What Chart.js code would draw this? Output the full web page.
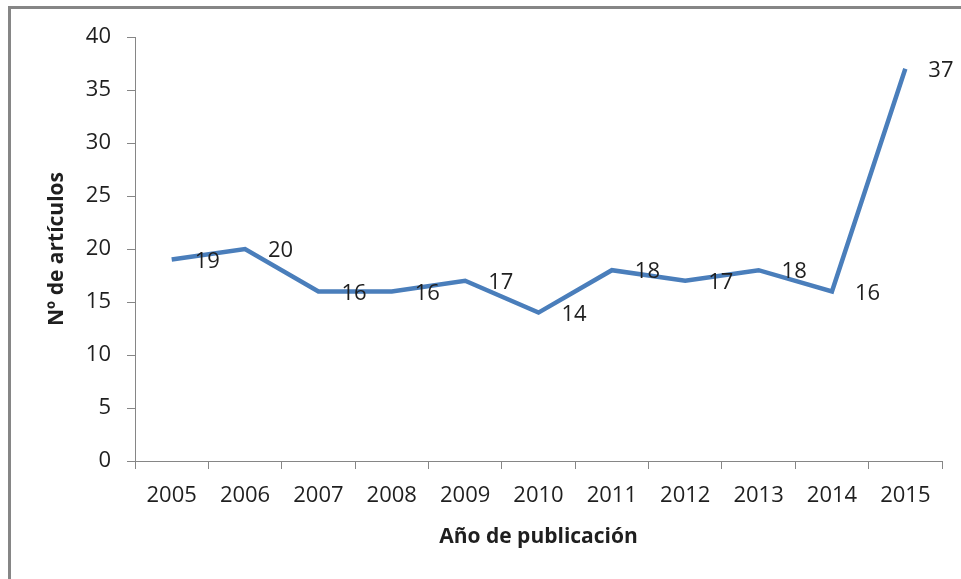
<!DOCTYPE html>
<html>
<head>
<meta charset="utf-8">
<script src="https://cdn.jsdelivr.net/npm/chart.js@4.4.1/dist/chart.umd.min.js"></script>
<style>
  html, body { margin: 0; padding: 0; background: #fff; overflow: hidden; }
  #frame { position: absolute; left: 8px; top: 6px; width: 1000px; height: 700px; border: 3px solid #868686; }
  #wrap { position: absolute; left: 0; top: 0; width: 961px; height: 579px; }
</style>
</head>
<body>
<div id="frame"></div>
<div id="wrap"><canvas id="c" width="961" height="579"></canvas></div>
<script>
const years = ['2005', '2006', '2007', '2008', '2009', '2010', '2011', '2012', '2013', '2014', '2015'];
const articles = [19, 20, 16, 16, 17, 14, 18, 17, 18, 16, 37];
const yTicks = [0, 5, 10, 15, 20, 25, 30, 35, 40];

const FONT = '"Open Sans", Lato, sans-serif';
const axisGray = '#868686';
const ink = '#1f1f1f';

// value labels drawn to the right of each point, like Excel's "right" position
const pointLabels = {
  id: 'pointLabels',
  afterDatasetsDraw(chart) {
    const { ctx } = chart;
    const meta = chart.getDatasetMeta(0);
    ctx.save();
    ctx.font = '22px ' + FONT;
    ctx.fillStyle = ink;
    ctx.textAlign = 'left';
    ctx.textBaseline = 'middle';
    meta.data.forEach((pt, i) => {
      ctx.fillText(String(articles[i]), pt.x + 23, pt.y + 2);
    });
    ctx.restore();
  }
};

new Chart(document.getElementById('c'), {
  type: 'line',
  data: {
    labels: years,
    datasets: [{
      data: articles,
      borderColor: '#4A7EBB',
      borderWidth: 4.5,
      pointRadius: 0,
      tension: 0,
      fill: false,
    }],
  },
  options: {
    responsive: false,
    animation: false,
    devicePixelRatio: 1,
    layout: { padding: { left: 0, top: 37, right: 19, bottom: 0 } },
    plugins: { legend: { display: false }, tooltip: { enabled: false } },
    scales: {
      x: {
        offset: true,
        grid: { offset: true, drawOnChartArea: false, color: axisGray, tickLength: 8, lineWidth: 1 },
        border: { color: axisGray, width: 1 },
        ticks: { color: ink, font: { family: FONT, size: 22 }, padding: 14, maxRotation: 0, autoSkip: false },
        title: { display: true, text: 'Año de publicación', color: ink, font: { family: FONT, size: 21, weight: 'bold' }, padding: { top: 0, bottom: 29 } },
        afterFit(scale) { scale.height = 118; },
      },
      y: {
        min: 0,
        max: 40,
        afterBuildTicks(scale) { scale.ticks = yTicks.map(v => ({ value: v })); },
        grid: { drawOnChartArea: false, color: axisGray, tickLength: 8, lineWidth: 1 },
        border: { color: axisGray, width: 1 },
        ticks: { color: ink, font: { family: FONT, size: 22 }, padding: 16 },
        title: { display: true, text: 'Nº de artículos', color: ink, font: { family: FONT, size: 21, weight: 'bold' }, padding: { top: 44, bottom: 0 } },
        afterFit(scale) { scale.width = 135; },
      },
    },
  },
  plugins: [pointLabels],
});
</script>
</body>
</html>
